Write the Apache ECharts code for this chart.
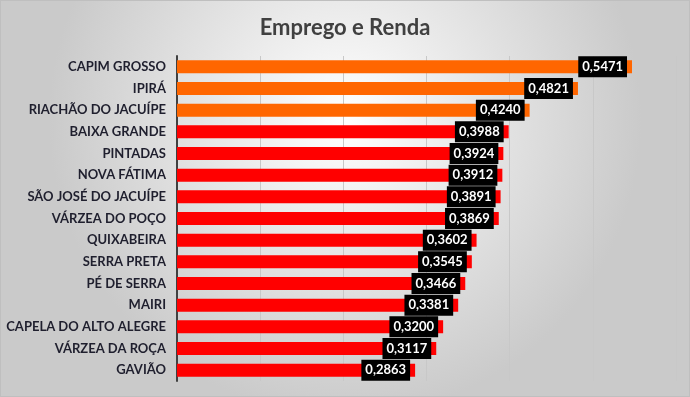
<!DOCTYPE html>
<html><head><meta charset="utf-8">
<script src="https://cdn.jsdelivr.net/npm/echarts@6/dist/echarts.min.js"></script>
<style>html,body{margin:0;padding:0;}#c{width:688px;height:395px;border:1px solid #bfbfbf;}</style>
</head><body><div id="c"></div>
<script>
const categories = ["CAPIM GROSSO","IPIRÁ","RIACHÃO DO JACUÍPE","BAIXA GRANDE","PINTADAS","NOVA FÁTIMA","SÃO JOSÉ DO JACUÍPE","VÁRZEA DO POÇO","QUIXABEIRA","SERRA PRETA","PÉ DE SERRA","MAIRI","CAPELA DO ALTO ALEGRE","VÁRZEA DA ROÇA","GAVIÃO"];
const values = [0.5471,0.4821,0.4240,0.3988,0.3924,0.3912,0.3891,0.3869,0.3602,0.3545,0.3466,0.3381,0.3200,0.3117,0.2863];
const highlightCount = 3;
const title = "Emprego e Renda";
const chart = echarts.init(document.getElementById('c'));
chart.setOption({
  backgroundColor: {type:'radial', x:0.5, y:0.3, r:0.75, colorStops:[{offset:0,color:'#ffffff'},{offset:1,color:'#cacaca'}]},
  title: {text: title, left: 'center', top: 11, textStyle:{fontFamily:'Lato', fontSize:22, fontWeight:'bold', color:'#404040'}},
  grid: {left: 176, right: 13, top: 55, bottom: 15, containLabel:false},
  xAxis: {type:'value', min:0, max:0.6, interval:0.1, axisLabel:{show:false}, axisLine:{show:false}, axisTick:{show:false},
    splitLine:{show:true, lineStyle:{color:'#c8c8c8', width:1}}},
  yAxis: {type:'category', data: categories, inverse:true, axisTick:{show:false},
    axisLine:{show:true, lineStyle:{color:'#404040', width:2}},
    axisLabel:{fontFamily:'Lato', fontWeight:'bold', fontSize:13, color:'#1f1f2e', margin:11}},
  series: [{type:'bar', data: values.map((v,i)=>({value:v, itemStyle:{color: i<highlightCount ? '#ff6600' : '#ff0000'}})),
    barWidth: 13, animation:false,
    label:{show:true, position:'insideRight', offset:[-1,0], distance:4,
      formatter: p => p.value.toFixed(4).replace('.', ','),
      backgroundColor:'#000000', color:'#ffffff', fontFamily:'Lato', fontWeight:'bold', fontSize:13,
      padding:[4,4,4,4]}}]
});
</script></body></html>
